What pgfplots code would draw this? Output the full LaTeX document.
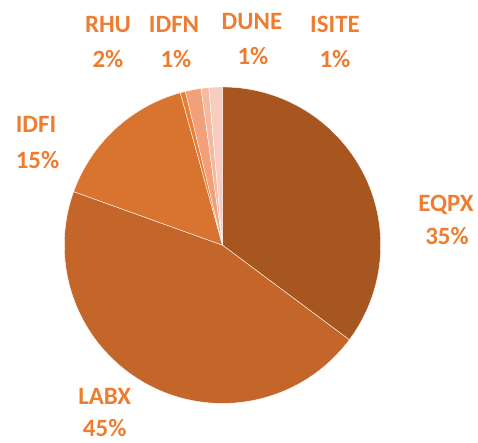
\documentclass[border=0pt]{standalone}
\usepackage{fontspec}
\setmainfont{Carlito}
\usepackage{pgfplots}
\usepackage{pgfplotstable}
\pgfplotsset{compat=1.18}
\definecolor{cEQPX}{HTML}{A8561F}
\definecolor{cLABX}{HTML}{C4652A}
\definecolor{cIDFI}{HTML}{D97330}
\definecolor{cRHU}{HTML}{ED7D31}
\definecolor{cIDFN}{HTML}{F1A07A}
\definecolor{cDUNE}{HTML}{F5B8A0}
\definecolor{cISITE}{HTML}{F8CCBE}
\definecolor{labelc}{HTML}{ED7D31}

\pgfplotstableread{
name value col
EQPX 35.2 cEQPX
LABX 45.3 cLABX
IDFI 15.2 cIDFI
RHU 0.53 cRHU
IDFN 1.61 cIDFN
DUNE 0.78 cDUNE
ISITE 1.38 cISITE
}\piedata

\begin{document}
\begin{tikzpicture}
\begin{axis}[hide axis, scale only axis, width=478bp, height=443bp,
  xmin=0, xmax=478, ymin=0, ymax=443, clip=false]
\coordinate (SW) at (axis cs:0,0);
\coordinate (NE) at (axis cs:478,443);
\def\cum{0}
\pgfplotsforeachungrouped \i in {0,...,6}{%
  \pgfplotstablegetelem{\i}{value}\of\piedata \let\val\pgfplotsretval
  \pgfplotstablegetelem{\i}{col}\of\piedata \let\col\pgfplotsretval
  \pgfmathsetmacro{\aS}{90-3.6*\cum}%
  \pgfmathsetmacro{\aE}{90-3.6*(\cum+\val)}%
  \pgfmathsetmacro{\cum}{\cum+\val}%
  \edef\temp{\noexpand\fill[fill=\col, draw=white, line width=0.4bp] (axis cs:222.5,197.8) -- ++(\aS:158.2bp) arc[start angle=\aS, end angle=\aE, radius=158.2bp] -- cycle;}%
  \temp
}
\tikzset{lbl/.style={anchor=base, text=labelc, inner sep=0pt, font=\fontsize{25}{30}\selectfont\bfseries}}
\node[lbl] at (axis cs:108,410) {RHU};
\node[lbl] at (axis cs:108,375) {2\%};
\node[lbl] at (axis cs:174,410) {IDFN};
\node[lbl] at (axis cs:176,375) {1\%};
\node[lbl] at (axis cs:252,413) {DUNE};
\node[lbl] at (axis cs:253,378) {1\%};
\node[lbl] at (axis cs:335,410) {ISITE};
\node[lbl] at (axis cs:335,375) {1\%};
\node[lbl] at (axis cs:36,310.3) {IDFI};
\node[lbl] at (axis cs:37.5,274) {15\%};
\node[lbl] at (axis cs:446,231.5) {EQPX};
\node[lbl] at (axis cs:447,198) {35\%};
\node[lbl] at (axis cs:104.7,38) {LABX};
\node[lbl] at (axis cs:104.7,6.5) {45\%};
\end{axis}
\pgfresetboundingbox
\useasboundingbox (SW) rectangle (NE);
\end{tikzpicture}
\end{document}
